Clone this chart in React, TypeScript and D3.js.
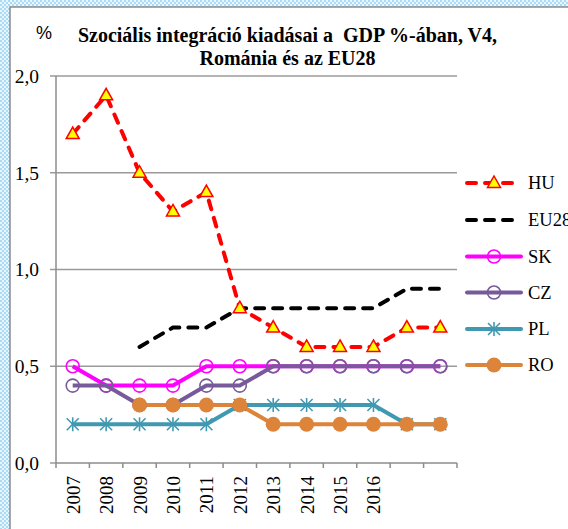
import React from "react";
import * as d3 from "d3";

const years = ["2007","2008","2009","2010","2011","2012","2013","2014","2015","2016","2017","2018"];
const xLabels = ["2007","2008","2009","2010","2011","2012","2013","2014","2015","2016","",""];
const yTicks = [0, 0.5, 1.0, 1.5, 2.0];

const HU = [1.7, 1.9, 1.5, 1.3, 1.4, 0.8, 0.7, 0.6, 0.6, 0.6, 0.7, 0.7];
const EU28 = [null, null, 0.6, 0.7, 0.7, 0.8, 0.8, 0.8, 0.8, 0.8, 0.9, 0.9];
const SK = [0.5, 0.4, 0.4, 0.4, 0.5, 0.5, 0.5, 0.5, 0.5, 0.5, 0.5, 0.5];
const CZ = [0.4, 0.4, 0.3, 0.3, 0.4, 0.4, 0.5, 0.5, 0.5, 0.5, 0.5, 0.5];
const PL = [0.2, 0.2, 0.2, 0.2, 0.2, 0.3, 0.3, 0.3, 0.3, 0.3, 0.2, 0.2];
const RO = [null, null, 0.3, 0.3, 0.3, 0.3, 0.2, 0.2, 0.2, 0.2, 0.2, 0.2];

type Series = { name: string; values: (number | null)[]; color: string; dash?: string; marker: string };

const series: Series[] = [
  { name: "HU", values: HU, color: "#FF0000", dash: "9 9", marker: "triangle" },
  { name: "EU28", values: EU28, color: "#000000", dash: "9 9", marker: "none" },
  { name: "SK", values: SK, color: "#FF00FF", marker: "circle" },
  { name: "CZ", values: CZ, color: "#775A99", marker: "circle" },
  { name: "PL", values: PL, color: "#4199B1", marker: "star" },
  { name: "RO", values: RO, color: "#DD843B", marker: "dot" },
];

const W = 568, H = 529;
const left = 56, right = 457, top = 76, bottom = 463;

function Marker({ type, color, x, y }: { type: string; color: string; x: number; y: number }) {
  if (type === "triangle") {
    return <path d={`M${x},${y - 7}L${x + 6.5},${y + 4.5}L${x - 6.5},${y + 4.5}Z`} fill="#FFFF00" stroke={color} strokeWidth={1.5} strokeLinejoin="miter" />;
  }
  if (type === "circle") {
    return <circle cx={x} cy={y} r={6.5} fill="none" stroke={color} strokeWidth={1.6} />;
  }
  if (type === "dot") {
    return <circle cx={x} cy={y} r={7.5} fill={color} />;
  }
  if (type === "star") {
    const s = 6;
    return (
      <g stroke={color} strokeWidth={1.6}>
        <line x1={x - s} y1={y - s} x2={x + s} y2={y + s} />
        <line x1={x - s} y1={y + s} x2={x + s} y2={y - s} />
        <line x1={x} y1={y - s - 1} x2={x} y2={y + s + 1} />
      </g>
    );
  }
  return null;
}

export default function App() {
  const x = d3.scaleBand<string>().domain(years).range([left, right]);
  const y = d3.scaleLinear().domain([0, 2]).range([bottom, top]);
  const cx = (yr: string) => (x(yr) as number) + x.bandwidth() / 2;
  const line = d3
    .line<{ yr: string; v: number | null }>()
    .defined((d) => d.v !== null)
    .x((d) => cx(d.yr))
    .y((d) => y(d.v as number));

  const boundaries = years.map((yr) => x(yr) as number).concat([right]);
  const legendY = [183, 220, 256.5, 292.5, 329, 365];
  const serif = "'Liberation Serif', 'Times New Roman', serif";

  return (
    <svg width={W} height={H} style={{ position: "absolute", left: 0, top: 0 }} xmlns="http://www.w3.org/2000/svg">
      <defs>
        <pattern id="chk" width="4" height="4" patternUnits="userSpaceOnUse">
          <rect width="4" height="4" fill="#EAF6FD" />
          <rect width="2" height="2" fill="#A9DBF6" />
          <rect x="2" y="2" width="2" height="2" fill="#A9DBF6" />
        </pattern>
      </defs>
      <rect x={0} y={0} width={W} height={H} fill="url(#chk)" />
      <rect x={10} y={7} width={W} height={H} fill="#FFFFFF" stroke="#8C8C8C" strokeWidth={1.5} />

      {/* gridlines and y ticks */}
      {yTicks.map((t) => (
        <g key={t}>
          {t > 0 && <line x1={left} x2={right} y1={y(t)} y2={y(t)} stroke="#9A9A9A" strokeWidth={1.5} />}
          <line x1={left - 6} x2={left} y1={y(t)} y2={y(t)} stroke="#9A9A9A" strokeWidth={1.5} />
          <text x={39} y={y(t)} dy="0.35em" textAnchor="end" fontFamily={serif} fontSize={19.5} fill="#000">
            {t.toFixed(1).replace(".", ",")}
          </text>
        </g>
      ))}
      {/* axes */}
      <line x1={left} x2={left} y1={top} y2={bottom} stroke="#8C8C8C" strokeWidth={1.5} />
      <line x1={left} x2={right} y1={bottom} y2={bottom} stroke="#8C8C8C" strokeWidth={1.5} />
      {boundaries.map((b, i) => (
        <line key={i} x1={b} x2={b} y1={bottom} y2={bottom + 5} stroke="#8C8C8C" strokeWidth={1.5} />
      ))}
      {years.map((yr, i) => (
        <text
          key={yr}
          transform={`translate(${cx(yr) + 7},476) rotate(-90)`}
          textAnchor="end"
          fontFamily={serif}
          fontSize={19}
          fill="#000"
        >
          {xLabels[i]}
        </text>
      ))}

      {/* lines */}
      {series.map((s) => (
        <path
          key={s.name}
          d={line(years.map((yr, i) => ({ yr, v: s.values[i] }))) || ""}
          fill="none"
          stroke={s.color}
          strokeWidth={4}
          strokeDasharray={s.dash}
          strokeLinecap={s.dash ? "round" : "butt"}
          strokeLinejoin="round"
        />
      ))}
      {/* markers */}
      {series.map((s) => (
        <g key={s.name + "m"}>
          {years.map((yr, i) =>
            s.values[i] === null ? null : (
              <Marker key={yr} type={s.marker} color={s.color} x={cx(yr)} y={y(s.values[i] as number)} />
            )
          )}
        </g>
      ))}

      {/* legend */}
      {series.map((s, i) => (
        <g key={s.name + "l"}>
          <line
            x1={467}
            x2={521}
            y1={legendY[i]}
            y2={legendY[i]}
            stroke={s.color}
            strokeWidth={4}
            strokeDasharray={s.dash}
            strokeLinecap="round"
          />
          <Marker type={s.marker} color={s.color} x={494} y={legendY[i]} />
          <text x={528} y={legendY[i]} dy="0.35em" fontFamily={serif} fontSize={18.5} fill="#000">
            {s.name}
          </text>
        </g>
      ))}

      {/* title */}
      <text x={44} y={39} textAnchor="middle" fontFamily="'Liberation Sans', Arial, sans-serif" fontSize={18} fill="#000">%</text>
      <text x={287.5} y={42} textAnchor="middle" fontFamily={serif} fontWeight="bold" fontSize={20} fill="#000" style={{ whiteSpace: "pre" }}>
        Szociális integráció kiadásai a  GDP %-ában, V4,
      </text>
      <text x={287.5} y={65} textAnchor="middle" fontFamily={serif} fontWeight="bold" fontSize={20} fill="#000">
        Románia és az EU28
      </text>
    </svg>
  );
}
